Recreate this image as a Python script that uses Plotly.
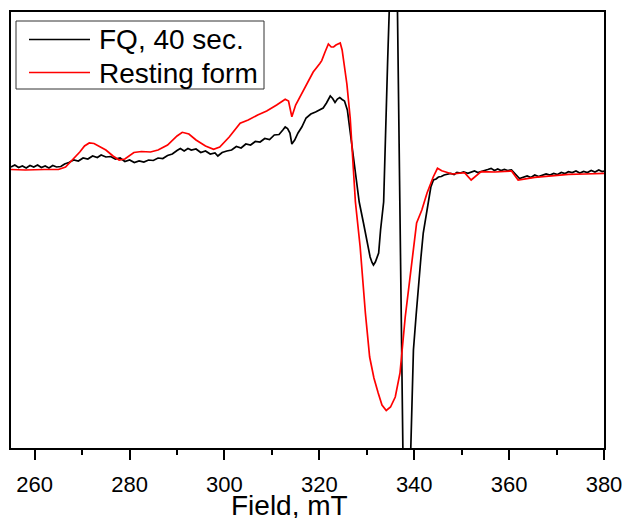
import plotly.graph_objects as go

# ---- FQ, 40 sec. (black) ----
fq_field = [255.0, 255.8, 256.6, 257.4, 258.2, 259.0, 259.8, 260.6, 261.4, 262.2, 263.0, 263.8, 264.6, 265.5,
            266.3, 267.2, 268.2, 269.2, 270.2, 271.2, 272.2, 273.2, 274.0, 275.0, 276.0, 277.0, 278.0, 279.0,
            280.0, 281.0, 282.0, 283.0, 284.0, 285.0, 286.0, 287.0, 288.0, 289.0, 290.0, 290.7, 291.5, 292.3,
            293.0, 294.0, 295.0, 296.0, 297.0, 298.0, 298.6, 299.5, 300.5, 301.5, 302.5, 303.5, 304.5, 305.5,
            306.5, 307.5, 308.5, 309.5, 310.5, 311.5, 312.3, 312.8, 313.3, 313.8, 314.2, 314.8, 315.5, 316.3,
            317.2, 318.2, 319.2, 320.1, 320.8, 321.5, 322.3, 322.8, 323.3, 323.8, 324.3, 324.8, 325.3, 325.9,
            326.6, 327.3, 327.9, 328.4, 329.3, 330.0, 330.7, 331.1, 331.4, 331.8, 332.5, 332.9, 333.2, 333.55,
            334.4, 334.8, 335.98, 336.47, 337.6, 338.13, 339.28, 339.83, 340.4, 340.9, 341.4, 341.9, 342.5,
            343.0, 343.5, 344.05, 344.6, 345.1, 345.7, 346.3, 347.0, 347.7, 348.4, 349.0, 349.7, 350.4, 351.3,
            352.0, 352.7, 353.4, 354.1, 354.8, 355.5, 356.2, 356.9, 357.6, 358.3, 359.0, 359.7, 360.5, 361.2,
            361.7, 362.2, 363.0, 363.8, 364.6, 365.4, 366.2, 367.0, 367.8, 368.6, 369.4, 370.2, 371.0, 371.8,
            372.5, 373.3, 374.1, 374.9, 375.7, 376.5, 377.3, 378.1, 378.9, 379.6, 380.0]
fq_pix = [167, 165, 167.5, 166, 168, 165.5, 167, 165, 167.5, 166, 168, 165.5, 167, 166.5,
          164, 162.5, 160, 161, 158, 159, 156, 157.5, 155, 157, 156.5, 159, 158, 161.5,
          160, 162.5, 161, 162, 160, 160.5, 158, 158.5, 155.5, 154, 150.5, 148.5, 151, 148.5,
          150, 149, 152.5, 151, 154, 153, 156, 152.5, 151, 150, 146.5, 148, 144, 145,
          141.5, 142, 138.5, 139.5, 135, 134.5, 130, 127, 128.5, 133, 144, 140, 133, 127,
          118, 114, 112, 109.5, 108, 103, 96, 98.5, 102.5, 99, 97.5, 99.5, 101, 110,
          134.7, 163, 180, 202, 223, 242, 257, 262.5, 265, 262, 253, 230, 213, 202,
          60, 12, -175, 12, 447, 649, 447, 350, 315, 283, 258, 233, 215,
          200, 187, 180, 179, 177, 176.5, 175, 174, 173.5, 174.5, 172.5, 173, 172, 173.4,
          172, 171, 172.5, 171.7, 170.5, 169.5, 168.4, 170.5, 169, 170.5, 169.5, 170.5, 170, 173,
          176, 178.5, 177, 176, 177.5, 175, 176.5, 175.5, 174, 175, 173.5, 174.5, 172.5, 173.5,
          171.7, 172.5, 171, 173, 171.5, 172.5, 170.5, 172, 170, 171.5, 171]

# ---- Resting form (red) ----
rest_field = [255.0, 258.0, 262.0, 265.0, 266.5, 268.0, 269.5, 270.5, 271.5, 272.5, 273.5, 275.0, 276.5,
              277.8, 279.0, 280.2, 280.9, 282.5, 284.4, 286.0, 288.0, 290.0, 291.1, 292.5, 294.0, 296.0,
              297.7, 299.0, 301.0, 303.3, 305.0, 307.0, 308.9, 311.0, 312.8, 313.5, 314.2, 315.0, 315.9,
              317.3, 318.7, 320.1, 320.5, 321.2, 321.9, 322.5, 323.0, 323.5, 324.4, 324.8, 325.3, 325.8,
              326.5, 327.6, 328.6, 329.7, 330.6, 331.5, 332.4, 333.2, 334.1, 335.0, 336.0, 337.0, 338.1,
              339.5, 340.5, 341.6, 342.7, 344.0, 344.9, 345.8, 348.0, 350.6, 352.0, 354.1, 357.0, 360.5,
              361.9, 365.4, 369.0, 372.5, 376.0, 380.0]
rest_pix = [169.5, 170, 169.5, 169.5, 167, 160, 152, 146, 143, 143.5, 146, 150, 156,
            160, 159, 155, 152.5, 151.5, 152, 150, 145, 136, 132.3, 134, 140, 146,
            149.3, 147, 137, 123.3, 120, 115, 111, 105, 99.3, 101, 116.7, 105, 97,
            85, 72, 63.5, 60.6, 52, 44, 47, 47, 45, 43, 50, 65, 84,
            118, 202, 247, 313, 357, 378, 393, 405, 410.5, 407, 397, 373, 317,
            263, 223, 210, 193, 177, 168.3, 170.7, 174, 172.7, 180, 171.7, 172, 171,
            180, 177.4, 176, 174.4, 174, 173.4]

BASE = 170
fq_val = [BASE - p for p in fq_pix]
rest_val = [BASE - p for p in rest_pix]

x_ticks = [260, 280, 300, 320, 340, 360, 380]
series_names = ["FQ, 40 sec.", "Resting form"]
series_colors = ["black", "#ff0000"]
x_title = "Field, mT"

# figure geometry
W, H = 623, 518
ML, MR, MT, MB = 11, 19, 12, 70
PW, PH = W - ML - MR, H - MT - MB


def px(xp):
    return (xp - ML) / PW


def py(yp):
    return (H - MB - yp) / PH


fig = go.Figure()
fig.add_trace(go.Scatter(x=fq_field, y=fq_val, mode="lines", name=series_names[0],
                         line=dict(color=series_colors[0], width=1.7), showlegend=False))
fig.add_trace(go.Scatter(x=rest_field, y=rest_val, mode="lines", name=series_names[1],
                         line=dict(color=series_colors[1], width=1.7), showlegend=False))

# legend box drawn by hand
shapes = [dict(type="rect", xref="paper", yref="paper", x0=px(16), x1=px(264), y0=py(89), y1=py(21),
               line=dict(color="#333333", width=1), fillcolor="white", layer="above")]
annotations = []
rows_y = [39.5, 72.5]
for name, col, ry in zip(series_names, series_colors, rows_y):
    shapes.append(dict(type="line", xref="paper", yref="paper", x0=px(29), x1=px(90), y0=py(ry), y1=py(ry),
                       line=dict(color=col, width=1.7), layer="above"))
    annotations.append(dict(text=name, xref="paper", yref="paper", x=px(97), y=py(ry + 0.5),
                            xanchor="left", yanchor="middle", showarrow=False,
                            font=dict(size=28, color="black")))

# x-axis title (placed as in the reference, slightly left of centre)
annotations.append(dict(text=x_title, xref="paper", yref="paper", x=px(289), y=py(505.5),
                        xanchor="center", yanchor="middle", showarrow=False,
                        font=dict(size=28, color="black")))

fig.update_layout(
    template="none",
    width=W, height=H,
    margin=dict(l=ML, r=MR, t=MT, b=MB, pad=0),
    paper_bgcolor="white", plot_bgcolor="white",
    font=dict(family="Liberation Sans, Arial, sans-serif", color="black"),
    showlegend=False,
    shapes=shapes, annotations=annotations,
)
fig.update_xaxes(range=[255, 380], tickvals=x_ticks, ticktext=[str(v) for v in x_ticks],
                 automargin=False, ticklabeloverflow="allow", ticklabelstandoff=6,
                 ticks="outside", ticklen=10, tickwidth=2, tickcolor="black",
                 minor=dict(dtick=10, tick0=250, ticks="outside", ticklen=5, tickwidth=2, tickcolor="black"),
                 showline=True, linecolor="black", linewidth=2, mirror=True,
                 showgrid=False, zeroline=False,
                 tickfont=dict(size=22, color="black"))
fig.update_yaxes(range=[-278, 158], showticklabels=False, ticks="", automargin=False,
                 showline=True, linecolor="black", linewidth=2, mirror=True,
                 showgrid=False, zeroline=False)

fig.write_html("out.html", config={"displayModeBar": False},
               post_script="document.body.style.margin='0';document.body.style.overflow='hidden';")
